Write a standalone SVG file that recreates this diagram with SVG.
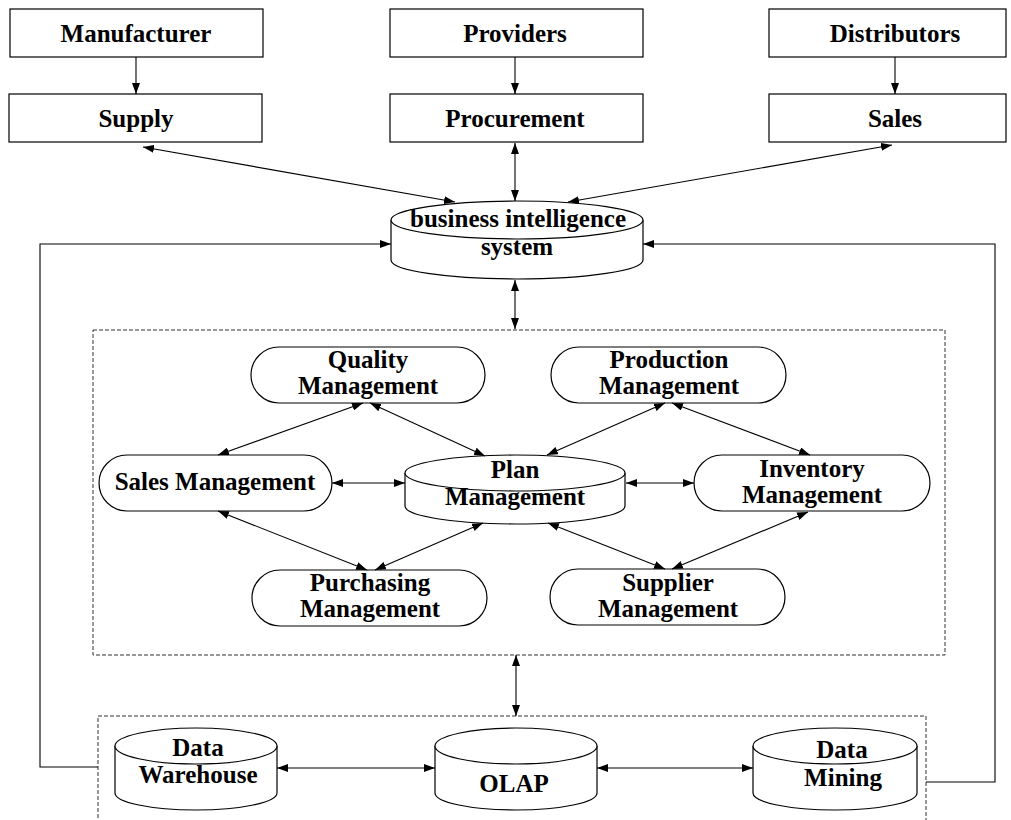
<svg xmlns="http://www.w3.org/2000/svg" width="1011" height="820" viewBox="0 0 1011 820">
<defs>
<marker id="ah" viewBox="0 0 11 8" refX="11" refY="4" markerWidth="11" markerHeight="8" markerUnits="userSpaceOnUse" orient="auto-start-reverse">
<path d="M0,0 L11,4 L0,8 z" fill="#000"/>
</marker>
<style>
.box{fill:#fff;stroke:#000;stroke-width:1.2}
.dash{fill:none;stroke:#333;stroke-width:1;stroke-dasharray:4,2}
.ln{fill:none;stroke:#000;stroke-width:1.1}
.one{marker-end:url(#ah)}
.two{marker-start:url(#ah);marker-end:url(#ah)}
text{font-family:"Liberation Serif","Times New Roman",serif;font-weight:bold;font-size:25px;text-anchor:middle;fill:#000}
</style>
</defs>
<rect width="1011" height="820" fill="#fff"/>

<g id="frame-mid"><rect class="dash" x="93" y="330" width="852" height="325"/></g>
<g id="frame-bottom"><path class="dash" d="M98,830 L98,716 L926,716 L926,830"/></g>

<g id="manufacturer"><rect class="box" x="10" y="9" width="253" height="48"/><text x="136" y="42">Manufacturer</text></g>
<g id="providers"><rect class="box" x="390" y="9" width="253" height="48"/><text x="515" y="42">Providers</text></g>
<g id="distributors"><rect class="box" x="769" y="9" width="237" height="48"/><text x="895" y="42">Distributors</text></g>
<g id="supply"><rect class="box" x="9" y="94" width="253" height="48"/><text x="136" y="127">Supply</text></g>
<g id="procurement"><rect class="box" x="390" y="94" width="253" height="48"/><text x="515" y="127">Procurement</text></g>
<g id="sales"><rect class="box" x="769" y="94" width="237" height="48"/><text x="895" y="127">Sales</text></g>

<g id="bi-system">
<path class="box" d="M391,220 L391,260 A126,19 0 0 0 643,260 L643,220"/>
<ellipse class="box" cx="517" cy="220" rx="126" ry="19"/>
<text x="518" y="227">business intelligence</text>
<text x="517" y="255">system</text>
</g>

<g id="quality"><rect class="box" x="251" y="347" width="234" height="56" rx="28"/><text x="368" y="368">Quality</text><text x="368" y="394">Management</text></g>
<g id="production"><rect class="box" x="551" y="347" width="235" height="56" rx="28"/><text x="669" y="368">Production</text><text x="669" y="394">Management</text></g>
<g id="sales-mgmt"><rect class="box" x="99" y="455" width="233" height="56" rx="28"/><text x="215" y="490">Sales Management</text></g>
<g id="plan">
<path class="box" d="M405,473 L405,506 A110,18 0 0 0 625,506 L625,473"/>
<ellipse class="box" cx="515" cy="473" rx="110" ry="18"/>
<text x="515" y="478">Plan</text>
<text x="515" y="505">Management</text>
</g>
<g id="inventory"><rect class="box" x="694" y="455" width="236" height="56" rx="28"/><text x="812" y="477">Inventory</text><text x="812" y="503">Management</text></g>
<g id="purchasing"><rect class="box" x="252" y="570" width="235" height="56" rx="28"/><text x="370" y="591">Purchasing</text><text x="370" y="617">Management</text></g>
<g id="supplier"><rect class="box" x="550" y="569" width="235" height="56" rx="28"/><text x="668" y="591">Supplier</text><text x="668" y="617">Management</text></g>

<g id="data-warehouse">
<path class="box" d="M115,746 L115,793 A81,17 0 0 0 277,793 L277,746"/>
<ellipse class="box" cx="196" cy="746" rx="81" ry="18"/>
<text x="198" y="756">Data</text>
<text x="198" y="783">Warehouse</text>
</g>
<g id="olap">
<path class="box" d="M435,746 L435,793 A81,17 0 0 0 597,793 L597,746"/>
<ellipse class="box" cx="516" cy="746" rx="81" ry="18"/>
<text x="514" y="792">OLAP</text>
</g>
<g id="data-mining">
<path class="box" d="M753,746 L753,793 A82,17 0 0 0 917,793 L917,746"/>
<ellipse class="box" cx="835" cy="746" rx="82" ry="18"/>
<text x="842" y="758">Data</text>
<text x="843" y="786">Mining</text>
</g>

<g id="connectors">
<path class="ln one" d="M136,57 L136,94"/>
<path class="ln one" d="M515,57 L515,94"/>
<path class="ln one" d="M895,57 L895,94"/>
<path class="ln two" d="M143,147 L455,202"/>
<path class="ln two" d="M515,143 L515,201"/>
<path class="ln two" d="M892,145 L568,202"/>
<path class="ln two" d="M515,280 L515,329"/>
<path class="ln one" d="M98,767 L40,767 L40,244 L391,244"/>
<path class="ln one" d="M926,782 L995,782 L995,244 L643,244"/>
<path class="ln two" d="M516,655 L516,716"/>
<path class="ln two" d="M277,768 L435,768"/>
<path class="ln two" d="M597,768 L753,768"/>
<path class="ln two" d="M363,403 L218,455"/>
<path class="ln two" d="M370,403 L485,456"/>
<path class="ln two" d="M332,483 L405,483"/>
<path class="ln two" d="M665,403 L547,455"/>
<path class="ln two" d="M672,403 L810,455"/>
<path class="ln two" d="M626,483 L694,483"/>
<path class="ln two" d="M218,511 L367,570"/>
<path class="ln two" d="M483,523 L375,570"/>
<path class="ln two" d="M548,523 L665,569"/>
<path class="ln two" d="M808,512 L672,569"/>
</g>
</svg>
